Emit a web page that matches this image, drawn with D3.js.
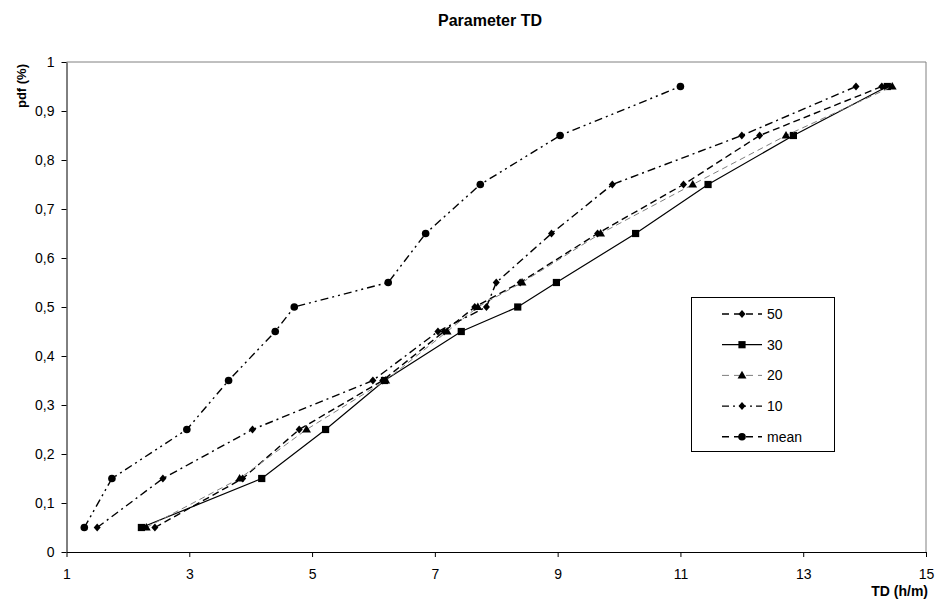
<!DOCTYPE html>
<html lang="en">
<head>
    <meta charset="UTF-8">
    <title>Parameter TD</title>
    <script src="https://d3js.org/d3.v7.min.js"></script>
    <style>
        body { margin: 0; background: #fff; }
        svg { display: block; font-family: "Liberation Sans", Arial, sans-serif; }
        .axis text { font-size: 14px; fill: #000; }
        .axis path, .axis line { stroke: #000; }
    </style>
</head>
<body>
<svg width="941" height="606"></svg>
<script>
// cumulative levels (y) shared by every series
var pdf = [0.05, 0.15, 0.25, 0.35, 0.45, 0.5, 0.55, 0.65, 0.75, 0.85, 0.95];

// TD values (x) for each series
var td50 = [2.44, 3.87, 4.79, 6.15, 7.15, 7.65, 8.39, 9.65, 11.05, 12.29, 14.28];
var td30 = [2.22, 4.18, 5.22, 6.18, 7.43, 8.35, 8.98, 10.27, 11.45, 12.84, 14.37];
var td20 = [2.30, 3.82, 4.91, 6.20, 7.20, 7.70, 8.42, 9.70, 11.20, 12.72, 14.45];
var td10 = [1.50, 2.57, 4.03, 5.99, 7.05, 7.84, 8.00, 8.90, 9.89, 12.00, 13.86];
var tdMean = [1.29, 1.74, 2.96, 3.64, 4.40, 4.71, 6.24, 6.85, 7.74, 9.04, 11.00];

var seriesNames = ["50", "30", "20", "10", "mean"];
var xTicks = [1, 3, 5, 7, 9, 11, 13, 15];
var yTicks = [0, 0.1, 0.2, 0.3, 0.4, 0.5, 0.6, 0.7, 0.8, 0.9, 1];

var styles = {
    "50":   {data: td50,   stroke: "#000", width: 1.4, dash: "7,4",          marker: "diamond"},
    "30":   {data: td30,   stroke: "#000", width: 1.2, dash: null,           marker: "square"},
    "20":   {data: td20,   stroke: "#7f7f7f", width: 1, dash: "6,4",         marker: "triangle"},
    "10":   {data: td10,   stroke: "#000", width: 1.4, dash: "8,4,2,4",      marker: "diamond"},
    "mean": {data: tdMean, stroke: "#000", width: 1.4, dash: "8,4,2,4,2,4",  marker: "circle"}
};

var svg = d3.select("svg");
var plotLeft = 66.5, plotRight = 926, plotTop = 62, plotBottom = 552;

var x = d3.scaleLinear().domain([1, 15]).range([plotLeft, plotRight]);
var y = d3.scaleLinear().domain([0, 1]).range([plotBottom, plotTop]);
var fmt = function(d) { return d3.format("~g")(d).replace(".", ","); };

// title
svg.append("text")
    .attr("x", 490).attr("y", 26)
    .attr("text-anchor", "middle")
    .style("font-weight", "bold").style("font-size", "16px")
    .text("Parameter TD");

// plot frame (top/right grey)
svg.append("line").attr("x1", plotLeft).attr("x2", plotRight).attr("y1", plotTop).attr("y2", plotTop)
    .attr("stroke", "#808080");
svg.append("line").attr("x1", plotRight).attr("x2", plotRight).attr("y1", plotTop).attr("y2", plotBottom)
    .attr("stroke", "#808080");

svg.append("g")
    .attr("class", "axis")
    .attr("transform", "translate(0," + plotBottom + ")")
    .call(d3.axisBottom(x).tickValues(xTicks).tickSize(5).tickSizeOuter(0).tickPadding(12).tickFormat(fmt));

svg.append("g")
    .attr("class", "axis")
    .attr("transform", "translate(" + plotLeft + ",0)")
    .call(d3.axisLeft(y).tickValues(yTicks).tickSize(5).tickSizeOuter(0).tickPadding(7).tickFormat(fmt));

// axis titles
svg.append("text")
    .attr("x", 928).attr("y", 596)
    .attr("text-anchor", "end")
    .style("font-weight", "bold").style("font-size", "14px")
    .text("TD (h/m)");

svg.append("text")
    .attr("transform", "translate(26,64)rotate(-90)")
    .attr("text-anchor", "end")
    .style("font-weight", "bold").style("font-size", "13px")
    .text("pdf (%)");

function drawMarker(g, type, cx, cy) {
    if (type === "circle") {
        g.append("circle").attr("cx", cx).attr("cy", cy).attr("r", 3.8).attr("fill", "#000");
    } else if (type === "square") {
        g.append("rect").attr("x", cx - 3.6).attr("y", cy - 3.6).attr("width", 7.2).attr("height", 7.2).attr("fill", "#000");
    } else if (type === "triangle") {
        g.append("path").attr("d", d3.symbol().type(d3.symbolTriangle).size(34)()).attr("transform", "translate(" + cx + "," + (cy + 0.5) + ")").attr("fill", "#000");
    } else {
        g.append("path").attr("d", "M0,-4L3.5,0L0,4L-3.5,0Z").attr("transform", "translate(" + cx + "," + cy + ")").attr("fill", "#000");
    }
}

var line = d3.line().x(function(d) { return x(d[0]); }).y(function(d) { return y(d[1]); });

// series
seriesNames.forEach(function(name) {
    var s = styles[name];
    var pts = s.data.map(function(v, i) { return [v, pdf[i]]; });
    var g = svg.append("g");
    g.append("path")
        .datum(pts)
        .attr("d", line)
        .attr("fill", "none")
        .attr("stroke", s.stroke)
        .attr("stroke-width", s.width)
        .attr("stroke-dasharray", s.dash);
    pts.forEach(function(p) { drawMarker(g, s.marker, x(p[0]), y(p[1])); });
});

// legend
var lg = svg.append("g");
lg.append("rect")
    .attr("x", 691.5).attr("y", 297.5).attr("width", 143).attr("height", 154)
    .attr("fill", "#fff").attr("stroke", "#000").attr("stroke-width", 1);

seriesNames.forEach(function(name, i) {
    var s = styles[name];
    var ly = 314 + i * 30.7;
    lg.append("line")
        .attr("x1", 722).attr("x2", 762).attr("y1", ly).attr("y2", ly)
        .attr("stroke", s.stroke).attr("stroke-width", s.width)
        .attr("stroke-dasharray", name === "30" ? null : (name === "10" ? "7,4,2,4" : "7,5"));
    drawMarker(lg, s.marker, 742, ly);
    lg.append("text")
        .attr("x", 767).attr("y", ly + 5)
        .style("font-size", "14px")
        .text(name);
});
</script>
</body>
</html>
